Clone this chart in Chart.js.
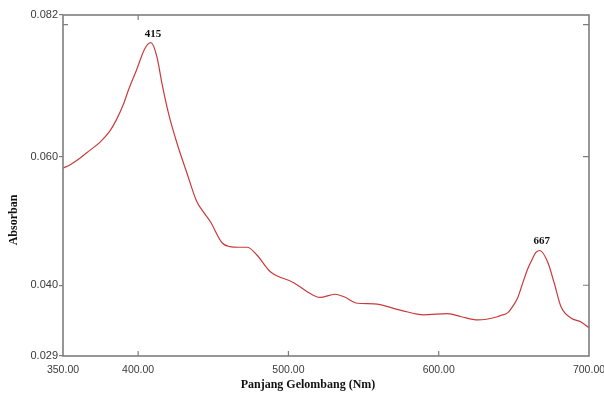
<!DOCTYPE html>
<html>
<head>
<meta charset="utf-8">
<script src="https://cdn.jsdelivr.net/npm/chart.js@4"></script>
<style>
html,body{margin:0;padding:0;background:#fff;}
#wrap{width:604px;height:396px;position:relative;}
</style>
</head>
<body>
<div id="wrap"><canvas id="c" width="604" height="396"></canvas></div>
<script>
// wavelength (nm)
const wavelengths = [350,354.5,361,368,374.5,381,385.5,390,393.5,399,404.5,408.5,412.5,415.8,420.2,425.8,432.5,439,444,448,455.8,461,467,472.5,479,488,503.5,512.5,521,531,537,546,557,575,590,606,615,626,639,641.3,645.8,648,652.5,654.7,659,661.3,664.7,667.3,672.5,676.9,681.3,688,694.7,700];
// absorbance
const absorbance = [0.0582,0.0587,0.0597,0.0610,0.0622,0.0639,0.0657,0.0680,0.0703,0.0735,0.0768,0.0777,0.0755,0.0714,0.0667,0.0621,0.0574,0.0530,0.0512,0.0499,0.0466,0.0460,0.0459,0.0459,0.0447,0.0421,0.0404,0.0390,0.0381,0.0386,0.0382,0.0372,0.0371,0.0361,0.0354,0.0356,0.0351,0.0346,0.0351,0.0353,0.0357,0.0363,0.0380,0.0395,0.0424,0.0436,0.0451,0.0454,0.0436,0.0403,0.0367,0.0349,0.0343,0.0334];
const xTickValues = [350,400,500,600,700];
const yTickValues = [0.029,0.040,0.060,0.082];
const bottomInnerTicks = [400,500,600];
const topInnerTicks = [400];
const rightInnerTicks = [0.0805,0.060,0.040];
const leftInnerTicks = [0.0805];
const peakLabels = [{index:11,text:'415'},{index:47,text:'667'}];
const xTitle = 'Panjang Gelombang (Nm)';
const yTitle = 'Absorban';

const AXIS = '#7d7d7d';
const points = wavelengths.map((w,i)=>({x:w,y:absorbance[i]}));

const framePlugin = {
  id:'frame',
  afterDraw(chart){
    const {ctx, chartArea:a, scales:{x,y}} = chart;
    ctx.save();
    ctx.strokeStyle = AXIS;
    ctx.lineWidth = 1.6;
    ctx.strokeRect(a.left, a.top, a.right-a.left, a.bottom-a.top);
    ctx.lineWidth = 1.2;
    ctx.beginPath();
    bottomInnerTicks.forEach(v=>{const px=x.getPixelForValue(v); ctx.moveTo(px,a.bottom); ctx.lineTo(px,a.bottom-5);});
    topInnerTicks.forEach(v=>{const px=x.getPixelForValue(v); ctx.moveTo(px,a.top); ctx.lineTo(px,a.top+5);});
    rightInnerTicks.forEach(v=>{const py=y.getPixelForValue(v); ctx.moveTo(a.right,py); ctx.lineTo(a.right-6,py);});
    leftInnerTicks.forEach(v=>{const py=y.getPixelForValue(v); ctx.moveTo(a.left,py); ctx.lineTo(a.left+5,py);});
    ctx.stroke();
    // peak labels
    ctx.fillStyle = '#111';
    ctx.font = 'bold 11px "Liberation Serif", "DejaVu Serif", serif';
    ctx.textAlign = 'center';
    ctx.textBaseline = 'middle';
    const meta = chart.getDatasetMeta(0);
    peakLabels.forEach(p=>{
      const el = meta.data[p.index];
      ctx.fillText(p.text, el.x+2, el.y-9);
    });
    // axis titles
    ctx.font = 'bold 12px "Liberation Serif", "DejaVu Serif", serif';
    ctx.fillText(xTitle, 308, 385);
    ctx.save();
    ctx.translate(14, 220);
    ctx.rotate(-Math.PI/2);
    ctx.fillText(yTitle, 0, 0);
    ctx.restore();
    ctx.restore();
  }
};

new Chart(document.getElementById('c'), {
  type:'line',
  data:{datasets:[{
    data:points,
    borderColor:'#c93b3b',
    borderWidth:1.2,
    pointRadius:0,
    fill:false,
    cubicInterpolationMode:'monotone'
  }]},
  options:{
    responsive:false,
    animation:false,
    layout:{padding:{left:0,top:15,right:15,bottom:0}},
    plugins:{legend:{display:false},tooltip:{enabled:false}},
    scales:{
      x:{
        type:'linear',
        min:350,max:700,
        afterBuildTicks(s){ s.ticks = xTickValues.map(v=>({value:v})); },
        afterFit(s){ s.height = 40; s.paddingLeft = 0; s.paddingRight = 0; },
        grid:{display:false,drawTicks:false},
        border:{display:false},
        ticks:{
          padding:8,
          maxRotation:0,
          autoSkip:false,
          color:'#3a3a3a',
          font:{family:'"Liberation Sans", Arial, sans-serif',size:10.5},
          callback:(v)=>Number(v).toFixed(2)
        }
      },
      y:{
        type:'linear',
        min:0.029,max:0.082,
        afterBuildTicks(s){ s.ticks = yTickValues.map(v=>({value:v})); },
        afterFit(s){ s.width = 63; s.paddingTop = 0; s.paddingBottom = 0; },
        grid:{display:true,drawOnChartArea:false,drawTicks:true,tickLength:4,color:AXIS,lineWidth:1.2},
        border:{display:false},
        ticks:{
          padding:1,
          autoSkip:false,
          color:'#3a3a3a',
          font:{family:'"Liberation Sans", Arial, sans-serif',size:11},
          callback:(v)=>Number(v).toFixed(3)
        }
      }
    }
  },
  plugins:[framePlugin]
});
</script>
</body>
</html>
